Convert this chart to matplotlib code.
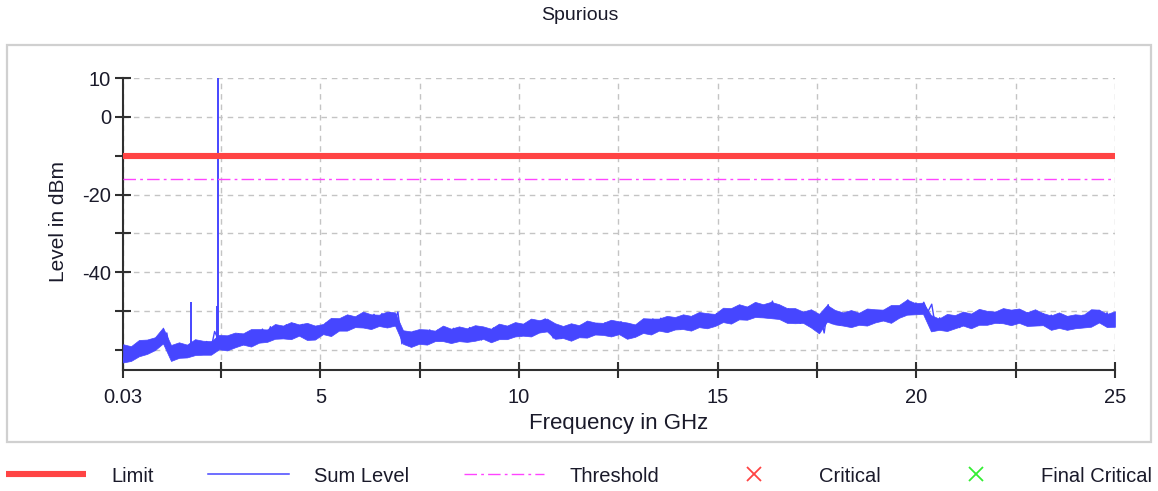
import numpy as np
import matplotlib
matplotlib.use("Agg")
import matplotlib.pyplot as plt
from matplotlib.lines import Line2D
from matplotlib.patches import Rectangle

plt.rcParams['font.family'] = ['Liberation Sans', 'DejaVu Sans']

# ---------------- data ----------------
f_start, f_stop = 0.03, 25.0
limit_freq = [0.03, 25.0]
limit_level = [-10.0, -10.0]
threshold_freq = [0.03, 25.0]
threshold_level = [-16.0, -16.0]

# Sum level trace (dBm), 250 sweep points from 0.03 to 25 GHz
sum_level = [
    -63.0, -59.4, -61.9, -58.8, -61.2, -58.3, -60.5, -57.4, -59.6, -56.5,
    -57.2, -55.6, -61.8, -58.9, -62.0, -59.0, -61.3, -58.4, -61.0, -58.0,
    -60.8, -57.8, -60.1, -55.2, -57.5, -56.9, -59.4, -56.3, -59.0, -55.8,
    -58.6, -55.7, -58.1, -55.1, -57.6, -54.6, -57.2, -54.0, -56.8, -53.9,
    -56.4, -53.5, -56.1, -53.2, -55.8, -53.4, -56.7, -54.0, -57.0, -54.1,
    -55.9, -53.0, -55.3, -52.4, -54.8, -51.9, -54.2, -51.3, -53.9, -51.2,
    -53.9, -51.0, -53.6, -50.8, -53.5, -50.6, -53.2, -50.3, -53.0, -50.2,
    -58.4, -55.5, -58.1, -55.2, -58.2, -55.3, -57.8, -54.8, -57.6, -54.9,
    -57.4, -54.6, -57.2, -54.4, -57.5, -54.7, -57.1, -54.2, -57.3, -54.5,
    -57.4, -54.6, -57.0, -54.3, -57.1, -54.4, -56.7, -53.9, -56.5, -53.7,
    -56.3, -53.3, -55.9, -52.9, -55.6, -52.6, -52.0, -54.6, -56.9, -54.1,
    -57.0, -54.0, -56.7, -53.8, -56.5, -53.6, -56.4, -53.4, -56.1, -53.2,
    -55.9, -53.0, -55.6, -52.8, -55.4, -52.7, -56.0, -53.3, -56.3, -53.5,
    -55.4, -52.4, -54.9, -52.0, -54.6, -51.8, -54.5, -51.7, -54.7, -52.0,
    -54.6, -51.7, -54.2, -51.3, -54.0, -51.2, -53.7, -50.8, -53.4, -50.6,
    -52.8, -49.9, -52.4, -49.5, -52.0, -49.2, -51.7, -48.9, -51.5, -48.7,
    -51.4, -48.6, -51.1, -47.4, -50.8, -49.0, -51.9, -49.4, -52.4, -49.8,
    -53.1, -50.3, -53.4, -50.5, -53.6, -50.8, -55.6, -48.3, -53.2, -50.4,
    -53.6, -50.7, -53.3, -50.4, -53.5, -50.6, -53.0, -50.2, -53.1, -50.3,
    -52.6, -49.8, -52.2, -49.4, -51.8, -49.0, -51.0, -47.1, -50.2, -47.9,
    -50.6, -47.7, -50.2, -48.2, -54.5, -51.7, -54.6, -51.8, -54.4, -51.5,
    -54.2, -51.3, -53.9, -51.1, -53.6, -50.8, -53.4, -50.6, -53.2, -50.3,
    -53.0, -50.1, -52.8, -50.0, -52.9, -50.2, -53.2, -50.4, -53.4, -50.6,
    -53.6, -50.7, -53.8, -51.0, -54.1, -51.2, -54.3, -51.4, -54.2, -51.3,
    -54.0, -51.0, -53.4, -50.3, -52.5, -49.8, -52.8, -50.4, -53.6, -51.0,
]
sweep_freq = np.linspace(f_start, f_stop, len(sum_level))

# max / min envelope of the sum level trace, 125 bins over the sweep
level_hi = [
    -58.5, -59.0, -57.4, -57.3, -56.7, -54.2, -58.7, -58.0, -58.6, -57.2,
    -57.6, -57.7, -56.1, -56.2, -55.5, -55.7, -54.6, -54.6, -54.7, -53.3,
    -53.7, -52.8, -53.4, -53.0, -53.7, -53.3, -51.7, -51.8, -50.8, -51.3,
    -50.1, -50.8, -50.9, -50.1, -50.3, -54.9, -55.2, -54.6, -54.7, -55.0,
    -53.7, -54.5, -53.9, -54.4, -53.6, -53.9, -54.5, -53.2, -53.7, -52.8,
    -53.2, -51.9, -52.3, -51.9, -53.1, -53.8, -53.1, -53.6, -52.4, -52.9,
    -53.0, -52.2, -52.6, -52.9, -53.4, -51.8, -51.9, -51.9, -51.2, -51.5,
    -50.8, -51.2, -50.2, -50.5, -50.7, -49.1, -49.2, -48.2, -48.8, -47.6,
    -48.2, -47.6, -48.2, -49.2, -49.2, -50.1, -49.5, -50.7, -48.4, -49.7,
    -50.3, -49.7, -50.4, -49.3, -49.5, -49.6, -48.4, -48.4, -47.0, -47.9,
    -47.8, -51.0, -51.9, -50.7, -51.0, -50.1, -50.6, -49.4, -49.9, -50.1,
    -49.2, -49.6, -49.3, -50.3, -49.5, -50.5, -51.1, -50.3, -51.2, -50.8,
    -51.0, -49.5, -49.6, -50.7, -50.0,
]
level_lo = [
    -63.2, -62.8, -61.6, -61.0, -60.0, -58.3, -62.8, -62.0, -61.9, -61.3,
    -61.2, -61.2, -59.8, -60.1, -59.3, -58.6, -59.1, -58.1, -57.9, -57.1,
    -57.0, -57.2, -56.3, -57.4, -57.3, -55.9, -56.4, -55.0, -55.0, -54.1,
    -54.2, -54.6, -53.8, -54.2, -53.7, -58.4, -59.2, -58.4, -58.6, -57.7,
    -57.7, -58.2, -57.7, -57.9, -57.6, -57.1, -58.0, -57.2, -57.2, -56.5,
    -56.3, -56.5, -55.5, -55.2, -57.1, -56.9, -57.6, -56.7, -56.8, -56.0,
    -56.1, -56.5, -55.9, -57.1, -56.6, -55.6, -56.0, -55.0, -55.4, -54.7,
    -54.6, -55.0, -54.1, -54.4, -53.8, -52.8, -53.2, -52.1, -52.2, -51.5,
    -51.6, -51.8, -52.0, -53.0, -53.1, -53.0, -54.2, -55.7, -52.7, -53.4,
    -53.7, -54.1, -53.5, -53.7, -52.9, -52.4, -53.0, -51.7, -50.9, -50.8,
    -50.7, -55.2, -54.8, -55.1, -54.4, -53.7, -54.4, -53.5, -53.5, -53.0,
    -53.1, -53.6, -53.0, -53.8, -53.7, -53.6, -54.8, -54.3, -54.8, -54.4,
    -54.2, -54.0, -52.9, -54.1, -54.0,
]
env_freq = np.linspace(f_start, f_stop, len(level_hi))

# narrow spurs (GHz, base dBm, peak dBm)
spur_freq = [1.74, 2.39, 2.42]
spur_base = [-58.5, -58.0, -58.0]
spur_peak = [-47.7, -48.6, 10.0]

x_ticks = [0.03, 2.5, 5, 7.5, 10, 12.5, 15, 17.5, 20, 22.5, 25]
x_labels = ['0.03', '', '5', '', '10', '', '15', '', '20', '', '25']
y_ticks = [10, 0, -10, -20, -30, -40, -50, -60]
y_labels = ['10', '0', '', '-20', '', '-40', '', '']
y_min, y_max = -65, 10

# ---------------- figure ----------------
W, H = 1158, 491
fig = plt.figure(figsize=(W / 100, H / 100), dpi=100)

# outer panel frame
fig.patches.append(Rectangle((7 / W, 1 - 442 / H), (1151 - 7) / W, (442 - 45) / H,
                             transform=fig.transFigure, fill=False,
                             edgecolor='#d0d0d0', lw=1.6))

ax = fig.add_axes([123 / W, 1 - 369.5 / H, (1115 - 123) / W, (369.5 - 78) / H])

blue = '#4646ff'
red = '#ff4444'
magenta = '#ff44ff'

ax.fill_between(env_freq, level_lo, level_hi, color=blue, lw=0.5, zorder=3)
ax.plot(sweep_freq, sum_level, color=blue, lw=1.0, zorder=3)
ax.vlines(spur_freq, spur_base, spur_peak, color=blue, lw=1.4, zorder=3)
ax.plot(limit_freq, limit_level, color=red, lw=4.4, solid_capstyle='butt', zorder=4)
ax.plot(threshold_freq, threshold_level, color=magenta, lw=1.0,
        linestyle=(0, (9, 3, 2, 3)), zorder=4)

ax.set_xlim(f_start, f_stop)
ax.set_ylim(y_min, y_max)
ax.set_xticks(x_ticks)
ax.set_xticklabels(x_labels)
ax.set_yticks(y_ticks)
ax.set_yticklabels(y_labels)

ax.grid(True, color='#c4c4c4', lw=1.0, linestyle=(0, (4, 3.5)), zorder=0)
ax.set_axisbelow(True)
for s in ['top', 'right']:
    ax.spines[s].set_visible(False)
for s in ['left', 'bottom']:
    ax.spines[s].set_color('#303030')
    ax.spines[s].set_linewidth(1.5)

ax.tick_params(axis='both', direction='inout', length=11, width=1.5,
               color='#303030', labelsize=14.5, labelcolor='#1a1a2a')
ax.tick_params(axis='y', pad=3)
ax.tick_params(axis='x', pad=8)

ax.set_xlabel('Frequency in GHz', fontsize=16, color='#1a1a2a')
ax.set_ylabel('Level in dBm', fontsize=15, color='#1a1a2a')
ax.xaxis.set_label_coords(0.5, -(413 - 369.5) / (369.5 - 78))
ax.yaxis.set_label_coords(-(123 - 68) / (1115 - 123), 1 - (222 - 78) / (369.5 - 78))

fig.text(580 / W, 1 - 16 / H, 'Spurious', ha='center', va='center',
         fontsize=14, color='#1a1a2a')

handles = [
    Line2D([], [], color=red, lw=4.4, solid_capstyle='butt'),
    Line2D([], [], color=blue, lw=1.1),
    Line2D([], [], color=magenta, lw=1.0, linestyle=(0, (9, 3, 2, 3))),
    Line2D([], [], color=red, lw=0, marker='x', markersize=10, markeredgewidth=1.3),
    Line2D([], [], color='#33ee33', lw=0, marker='x', markersize=10, markeredgewidth=1.3),
]
labels = ['Limit', 'Sum Level', 'Threshold', 'Critical', 'Final Critical']
fig.legend(handles, labels, loc='center', bbox_to_anchor=(579 / W, 1 - 476 / H),
           ncol=5, frameon=False, fontsize=14.5, handlelength=4.0,
           handletextpad=1.25, columnspacing=2.7, borderpad=0, numpoints=1,
           labelcolor='#1a1a2a')

fig.savefig('out.png', dpi=100)
